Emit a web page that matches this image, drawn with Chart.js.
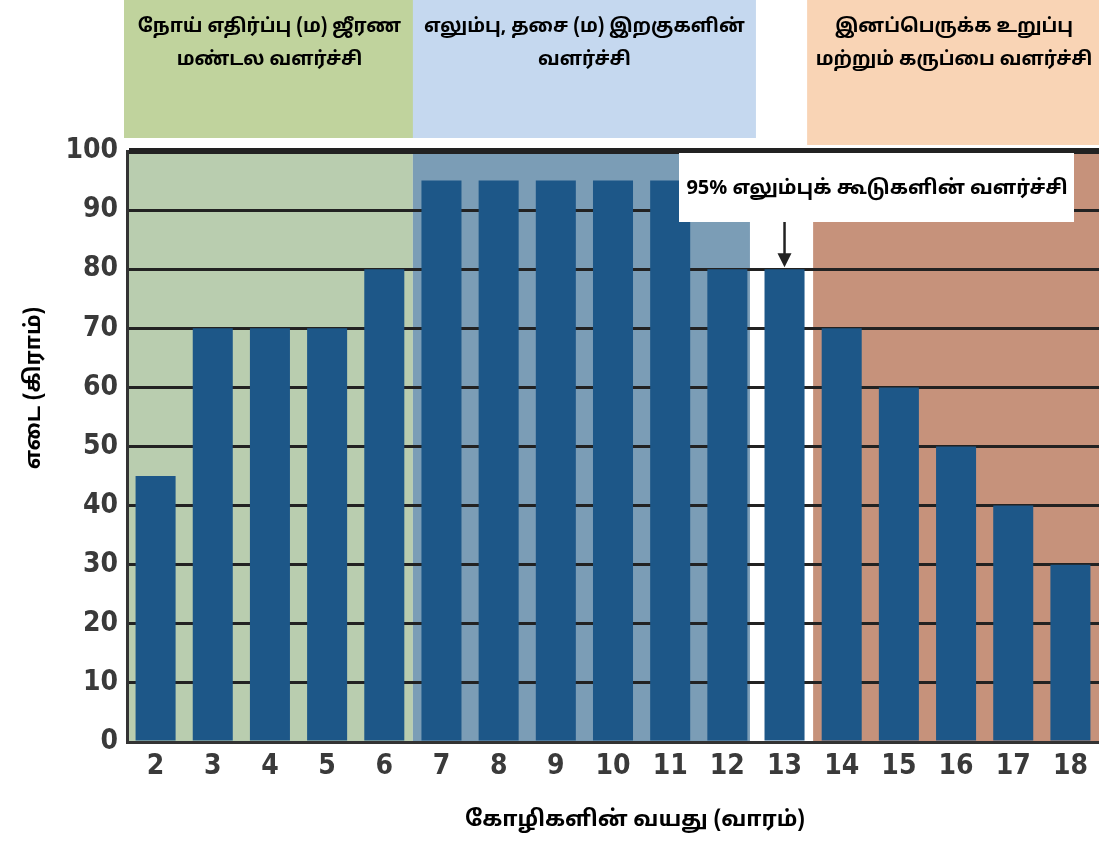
<!DOCTYPE html>
<html>
<head>
<meta charset="utf-8">
<script src="https://cdn.jsdelivr.net/npm/chart.js@4.4.0/dist/chart.umd.min.js"></script>
<style>
  html, body { margin: 0; padding: 0; background: #fff; }
  #wrap { width: 1099px; height: 842px; position: relative; }
</style>
</head>
<body>
<div id="wrap"><canvas id="chart"></canvas></div>
<script>
// Weeks of age (categories) and weight per week
const weeks = ['2', '3', '4', '5', '6', '7', '8', '9', '10', '11', '12', '13', '14', '15', '16', '17', '18'];
const weights = [45, 70, 70, 70, 80, 95, 95, 95, 95, 95, 80, 80, 70, 60, 50, 40, 30];
const y_ticks = [0, 10, 20, 30, 40, 50, 60, 70, 80, 90, 100];

// Growth phases: first and last week of each phase and its header text
const phase_first = ['2', '7', '14'];
const phase_last = ['6', '12', '18'];
const phase_titles = [
    ['நோய் எதிர்ப்பு (ம) ஜீரண', 'மண்டல வளர்ச்சி'],
    ['எலும்பு, தசை (ம) இறகுகளின்', 'வளர்ச்சி'],
    ['இனப்பெருக்க உறுப்பு', 'மற்றும் கருப்பை வளர்ச்சி']
];

// Note pointing at week 13
const note_week = '13';
const note_text = '95% எலும்புக் கூடுகளின் வளர்ச்சி';

const x_title = 'கோழிகளின் வயது (வாரம்)';
const y_title = 'எடை (கிராம்)';

const plot_colors = ['#b9cdaf', '#7b9db6', '#c6927b'];
const head_colors = ['#c0d39d', '#c5d8ef', '#f9d4b5'];
const tamil_font = '"Noto Sans Tamil", "Noto Sans", "Lohit Tamil", sans-serif';
const tick_font = '"Liberation Sans Narrow", "DejaVu Sans Condensed", sans-serif';


// Half way between two categories
function edge(scale, i) {
    return (scale.getPixelForTick(i) + scale.getPixelForTick(i + 1)) / 2;
}


const phases_plugin = {
    id: 'phases',
    beforeDraw(chart) {
        const ctx = chart.ctx;
        const area = chart.chartArea;
        const x = chart.scales.x;
        const last = weeks.length - 1;

        ctx.save();
        for (let p = 0; p < phase_first.length; p++) {
            const i0 = weeks.indexOf(phase_first[p]);
            const i1 = weeks.indexOf(phase_last[p]);
            const left = i0 === 0 ? area.left : edge(x, i0 - 1);
            const right = i1 === last ? area.right : edge(x, i1);
            const band_right = p === 1 ? right - 6 : right;

            // Band inside the plot
            ctx.fillStyle = plot_colors[p];
            ctx.fillRect(left, area.top, band_right - left, area.bottom - area.top);

            // Header box above the plot
            const h_left = p === 0 ? left - 3 : left - (p === 2 ? 6 : 0);
            const h_right = p === 1 ? right : right + 2;
            ctx.fillStyle = head_colors[p];
            ctx.fillRect(h_left, 0, h_right - h_left, p === 2 ? 145 : 138);

            // Header text
            ctx.fillStyle = '#000';
            ctx.font = 'bold 19px ' + tamil_font;
            ctx.textAlign = 'center';
            ctx.textBaseline = 'middle';
            const cx = (h_left + h_right) / 2;
            phase_titles[p].forEach((line, n) => {
                ctx.fillText(line, cx, 28 + n * 33);
            });
        }
        ctx.restore();
    },
    afterDraw(chart) {
        const ctx = chart.ctx;
        const x = chart.scales.x;
        const y = chart.scales.y;
        const i = weeks.indexOf(note_week);
        const ax = x.getPixelForTick(i);
        const tip = y.getPixelForValue(weights[i]);

        ctx.save();

        // Note box
        ctx.fillStyle = '#fff';
        ctx.fillRect(679, 153, 395, 69);
        ctx.fillStyle = '#000';
        ctx.font = 'bold 20px ' + tamil_font;
        ctx.textAlign = 'center';
        ctx.textBaseline = 'middle';
        ctx.fillText(note_text, 877, 190);

        // Arrow down to the bar
        ctx.strokeStyle = '#222';
        ctx.lineWidth = 2.5;
        ctx.beginPath();
        ctx.moveTo(ax, 222);
        ctx.lineTo(ax, tip - 10);
        ctx.stroke();
        ctx.fillStyle = '#222';
        ctx.beginPath();
        ctx.moveTo(ax - 7, tip - 16);
        ctx.lineTo(ax + 7, tip - 16);
        ctx.lineTo(ax, tip - 2);
        ctx.closePath();
        ctx.fill();

        // Axis titles
        ctx.fillStyle = '#000';
        ctx.font = 'bold 22px ' + tamil_font;
        ctx.fillText(x_title, 635, 822);
        ctx.translate(36, 388);
        ctx.rotate(-Math.PI / 2);
        ctx.fillText(y_title, 0, 0);

        ctx.restore();
    }
};


const ctx = document.getElementById('chart');

new Chart(ctx, {
    type: 'bar',
    data: {
        labels: weeks,
        datasets: [
            {
                label: y_title,
                data: weights,
                backgroundColor: '#1d5788',
                borderWidth: 0,
                categoryPercentage: 1,
                barPercentage: 0.7
            }
        ]
    },
    options: {
        responsive: true,
        maintainAspectRatio: false,
        animation: false,
        events: [],
        layout: {
            padding: { top: 151, right: 0, left: 0, bottom: 0 }
        },
        plugins: {
            legend: { display: false },
            tooltip: { enabled: false }
        },
        scales: {
            x: {
                grid: { display: false, drawTicks: false },
                border: { display: true, color: '#333', width: 3 },
                ticks: {
                    color: '#3a3a3a',
                    padding: 8,
                    font: { family: tick_font, size: 28, weight: 'bold' }
                },
                afterFit(scale) {
                    scale.height = 100;
                }
            },
            y: {
                min: 0,
                max: 100,
                afterBuildTicks(scale) {
                    scale.ticks = y_ticks.map(v => ({ value: v }));
                },
                grid: {
                    color: '#222',
                    lineWidth: c => (c.tick && c.tick.value === 100 ? 6 : 3),
                    drawTicks: false
                },
                border: { display: true, color: '#333', width: 3 },
                ticks: {
                    color: '#3a3a3a',
                    padding: 9,
                    font: { family: tick_font, size: 28, weight: 'bold' }
                },
                afterFit(scale) {
                    scale.width = 127;
                }
            }
        }
    },
    plugins: [phases_plugin]
});
</script>
</body>
</html>
